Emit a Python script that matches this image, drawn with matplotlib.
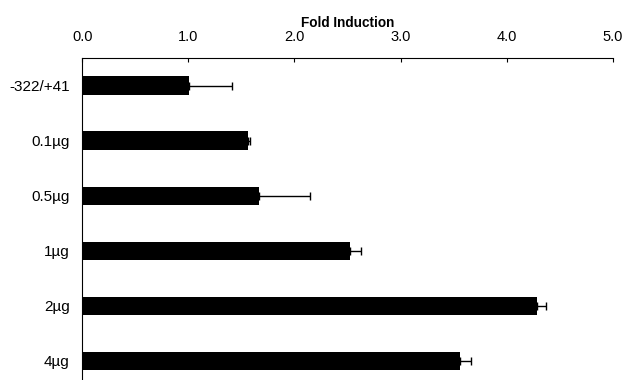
#!/usr/bin/env python3

import matplotlib.pyplot as plt

# values
categories = ["-322/+41", "0.1\u00b5g", "0.5\u00b5g", "1\u00b5g", "2\u00b5g", "4\u00b5g"]
foldInduction = [1.01, 1.56, 1.67, 2.52, 4.29, 3.56]
errorPlus = [0.40, 0.02, 0.48, 0.11, 0.08, 0.10]
xTicks = [0.0, 1.0, 2.0, 3.0, 4.0, 5.0]


def Main():
    plt.rcParams["font.family"] = ["Liberation Sans", "DejaVu Sans"]

    fig = plt.figure(figsize=(6.23, 3.80), dpi=100)
    ax = fig.add_axes([82.3 / 623, 0.0, (612.7 - 82.3) / 623, (380 - 58) / 380])

    positions = list(range(len(categories)))
    ax.barh(
        positions,
        foldInduction,
        height=0.33,
        color="black",
        xerr=[[0] * len(errorPlus), errorPlus],
        error_kw={"ecolor": "black", "elinewidth": 1.0, "capsize": 3, "capthick": 1.0},
    )

    ax.set_xlim(0, 5)
    ax.set_ylim(5.35, -0.5)
    ax.set_yticks(positions)
    ax.set_yticklabels(categories, fontsize=11)
    ax.tick_params(axis="y", length=0, pad=9)

    ax.xaxis.tick_top()
    ax.set_xticks(xTicks)
    ax.set_xticklabels([f"{t:.1f}" for t in xTicks], fontsize=10.5)
    ax.tick_params(axis="x", direction="in", length=3, width=0.8, pad=10)
    ax.xaxis.set_label_position("top")
    ax.set_xlabel("Fold Induction", fontsize=9.8, fontweight="bold", labelpad=2)

    for side in ("right", "bottom"):
        ax.spines[side].set_visible(False)
    ax.spines["top"].set_linewidth(0.8)
    ax.spines["left"].set_linewidth(0.8)

    fig.savefig("out.png", dpi=100)


if __name__ == "__main__":
    Main()
